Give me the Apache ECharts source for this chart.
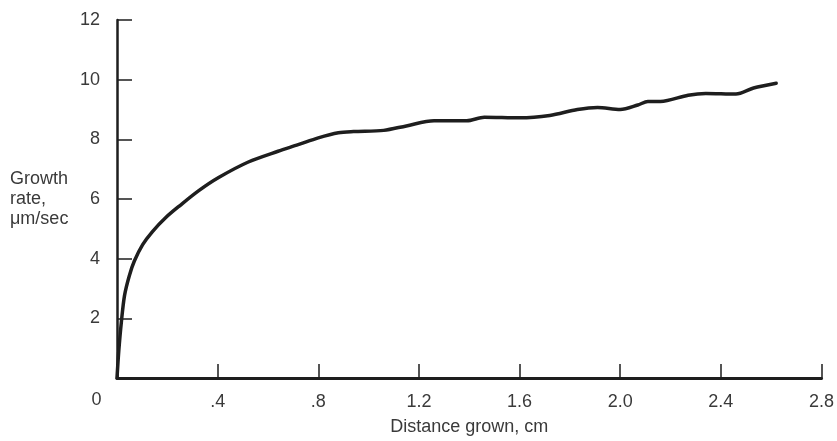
<!DOCTYPE html>
<html>
<head>
<meta charset="utf-8">
<script src="https://cdn.jsdelivr.net/npm/echarts@6/dist/echarts.min.js"></script>
<style>html,body{margin:0;padding:0;background:#fff;}#c{width:837px;height:441px;}</style>
</head>
<body>
<div id="c"></div>
<script>
// Distance grown (cm)
const distance = [0, 0.007, 0.017, 0.03, 0.049, 0.069, 0.102, 0.141, 0.194, 0.25, 0.325, 0.404, 0.522, 0.64, 0.72, 0.80, 0.88, 0.94, 1.06, 1.15, 1.26, 1.39, 1.46, 1.6, 1.72, 1.83, 1.91, 2.0, 2.07, 2.11, 2.16, 2.27, 2.34, 2.46, 2.53, 2.62];
// Growth rate (µm/sec)
const growthRate = [0, 0.9, 1.85, 2.77, 3.43, 3.92, 4.47, 4.91, 5.38, 5.78, 6.28, 6.72, 7.24, 7.6, 7.82, 8.05, 8.22, 8.26, 8.3, 8.45, 8.62, 8.62, 8.74, 8.72, 8.8, 9.0, 9.07, 9.0, 9.15, 9.27, 9.27, 9.48, 9.54, 9.52, 9.72, 9.88];
const xTickLabels = ['0', '.4', '.8', '1.2', '1.6', '2.0', '2.4', '2.8'];
const yTickLabels = ['', '2', '4', '6', '8', '10', '12'];

const font = "'Liberation Sans', Arial, sans-serif";
const txt = '#3a3a3a';
const ink = '#1e1e1e';

const chart = echarts.init(document.getElementById('c'), null, {renderer: 'canvas'});
chart.setOption({
  animation: false,
  backgroundColor: '#fff',
  grid: {left: 117, right: 9, top: 20, bottom: 58, containLabel: false},
  xAxis: {
    type: 'value', min: 0, max: 2.8, interval: 0.4,
    name: 'Distance grown, cm', nameLocation: 'middle', nameGap: 40,
    nameTextStyle: {fontFamily: font, fontSize: 18, color: txt},
    axisLine: {show: true, onZero: false, lineStyle: {color: ink, width: 3}},
    axisTick: {show: true, inside: true, length: 14, lineStyle: {color: ink, width: 1.5}},
    splitLine: {show: false},
    axisLabel: {
      margin: 15, fontFamily: font, fontSize: 18, color: txt,
      formatter: function (v) {
        const i = Math.round(v / 0.4);
        return i === 0 ? '{z|' + xTickLabels[0] + '}' : xTickLabels[i];
      },
      rich: {z: {fontFamily: font, fontSize: 18, color: txt, padding: [-2, 41, 0, 0]}}
    }
  },
  yAxis: {
    type: 'value', min: 0, max: 12, interval: 2,
    name: 'Growth\nrate,\nμm/sec', nameLocation: 'middle', nameRotate: 0, nameGap: 107,
    nameTextStyle: {fontFamily: font, fontSize: 18, color: txt, align: 'left', lineHeight: 20},
    axisLine: {show: true, lineStyle: {color: ink, width: 2.5}},
    axisTick: {show: true, inside: true, length: 15, lineStyle: {color: ink, width: 1.5}},
    splitLine: {show: false},
    axisLabel: {
      margin: 17, fontFamily: font, fontSize: 18, color: txt,
      formatter: function (v) { return yTickLabels[Math.round(v / 2)]; }
    }
  },
  series: [{
    type: 'line',
    data: distance.map((d, i) => [d, growthRate[i]]),
    smooth: 0.3,
    showSymbol: false,
    lineStyle: {color: ink, width: 3.5, join: 'round', cap: 'round'},
    z: 3
  }]
});
</script>
</body>
</html>
